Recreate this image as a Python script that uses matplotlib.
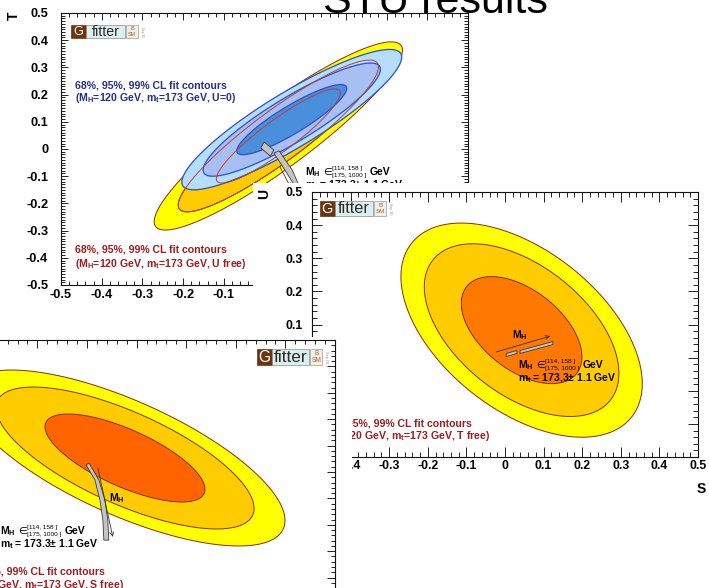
import numpy as np
import matplotlib
matplotlib.use("Agg")
import matplotlib.pyplot as plt
from matplotlib.patches import Polygon, Rectangle
from matplotlib.transforms import Affine2D
from matplotlib.ticker import MultipleLocator, FuncFormatter

plt.rcParams['font.family'] = ['Liberation Sans', 'DejaVu Sans']
plt.rcParams['font.weight'] = 'bold'
plt.rcParams['axes.unicode_minus'] = False
plt.rcParams['mathtext.fontset'] = 'custom'
plt.rcParams['mathtext.rm'] = 'Liberation Sans:bold'
plt.rcParams['mathtext.bf'] = 'Liberation Sans:bold'

# ---------------------------------------------------------------- data
cl_labels = ["68%", "95%", "99%"]
chi2_2dof = [2.30, 5.99, 9.21]          # 2-parameter chi2 thresholds

# S,T fit with U = 0
st_u0_center = (0.067, 0.108)
st_u0_sigma = (0.089, 0.085)
st_u0_rho = 0.89
# S,T fit with U free
st_uf_center = (0.034, 0.048)
st_uf_sigma = (0.1005, 0.114)
st_uf_rho = 0.91
# S,U fit with T free
su_center = (0.043, 0.083)
su_sigma = (0.103, 0.1065)
su_rho = -0.50
# U,T fit with S free
tu_center = (0.0766, 0.053)
tu_sigma = (0.1063, 0.1098)
tu_rho = -0.71

# SM prediction bands (M_H in [114,158] and [175,1000] GeV, m_t = 173.3 +- 1.1 GeV)
st_sm_low_edge_a = ([-0.001, 0.023], [0.026, -0.004])
st_sm_low_edge_b = ([-0.009, 0.014], [0.004, -0.026])
st_sm_high_edge_a = ([0.023, 0.050, 0.070, 0.080], [-0.015, -0.077, -0.125, -0.169])
st_sm_high_edge_b = ([0.036, 0.068, 0.082, 0.092], [-0.007, -0.077, -0.125, -0.169])
st_mh_arrow = ((0.038, -0.066), (0.065, -0.143))

su_sm_low = ([0.003, 0.031], [0.008, 0.017])
su_sm_high = ([0.039, 0.124], [0.017, 0.044])
su_sm_halfwidth = 0.0045
su_mh_arrow = ((-0.023, 0.017), (0.117, 0.065))

tu_sm_edge_a = ([-0.002, 0.016, 0.026, 0.032, 0.034], [0.027, -0.030, -0.106, -0.182, -0.258])
tu_sm_edge_b = ([0.004, 0.024, 0.036, 0.042, 0.044], [0.034, -0.030, -0.106, -0.182, -0.258])
tu_mh_arrow = ((0.022, 0.015), (0.052, -0.246))

mh_range_low = "[114, 158 ]"
mh_range_high = "[175, 1000 ]"

# ---------------------------------------------------------------- style
W, H = 709, 588
yellow, amber = '#ffff00', '#ffcc00'
edge_red = '#8b2a10'
blue_fills = ['#4a8fdb', '#a8bff4', '#b5defb']   # 68, 95, 99
blue_edge = '#2d4fc8'
ufree_line = '#b5403a'
txt_blue = '#22308a'
txt_red = '#a01c1c'
band_fc, band_ec = '#c4c4c4', '#3a3a3a'

fig = plt.figure(figsize=(W / 100, H / 100), dpi=100)
fig.patch.set_facecolor('white')
PX = Affine2D().scale(1.0 / W, -1.0 / H).translate(0, 1) + fig.transFigure


def frac_box(l, t, r, b):
    return [l / W, 1 - b / H, (r - l) / W, (b - t) / H]


def make_fmt(lo=-9.0, hi=9.0):
    # labels outside [lo, hi] lie under the neighbouring panel and are left blank
    def fmt(v, _):
        if v < lo - 1e-9 or v > hi + 1e-9:
            return ""
        if abs(v) < 1e-9:
            return "0"
        return f"{round(v, 2):g}"
    return FuncFormatter(fmt)


def setup(ax, xlim, ylim, minor_x, minor_y, size, xpad, ypad, maj, mnr,
          xfmt=None, yfmt=None):
    ax.set_xlim(*xlim)
    ax.set_ylim(*ylim)
    ax.xaxis.set_major_locator(MultipleLocator(0.1))
    ax.yaxis.set_major_locator(MultipleLocator(0.1))
    ax.xaxis.set_minor_locator(MultipleLocator(minor_x))
    ax.yaxis.set_minor_locator(MultipleLocator(minor_y))
    ax.xaxis.set_major_formatter(xfmt or make_fmt())
    ax.yaxis.set_major_formatter(yfmt or make_fmt())
    ax.tick_params(which='both', direction='in', top=True, right=True,
                   width=0.7, color='#222222')
    ax.tick_params(which='major', length=maj)
    ax.tick_params(which='minor', length=mnr)
    ax.tick_params(axis='x', pad=xpad, labelsize=size)
    ax.tick_params(axis='y', pad=ypad, labelsize=size)
    for sp in ax.spines.values():
        sp.set_linewidth(0.8)
        sp.set_color('#111111')


def ellipse(center, sigma, rho, chi2, n=400):
    cov = np.array([[sigma[0] ** 2, rho * sigma[0] * sigma[1]],
                    [rho * sigma[0] * sigma[1], sigma[1] ** 2]])
    L = np.linalg.cholesky(cov)
    t = np.linspace(0, 2 * np.pi, n)
    pts = L @ (np.vstack([np.cos(t), np.sin(t)]) * np.sqrt(chi2))
    return pts[0] + center[0], pts[1] + center[1]


def txt(ax, x, y, s, size, color='black', weight='bold', ha='left', va='center', **kw):
    return ax.text(x, y, s, transform=PX, fontsize=size, color=color,
                   fontweight=weight, ha=ha, va=va, clip_on=False, **kw)


def logo(ax, x0, y0, w, h):
    gw, fw, gap, bw = 0.224 * w, 0.582 * w, 0.015 * w, 0.18 * w
    ax.add_patch(Rectangle((x0, y0), gw, h, transform=PX, fc='#6b3510',
                           ec='#6b3510', lw=0.5, clip_on=False, zorder=8))
    txt(ax, x0 + gw / 2, y0 + h / 2 + 0.4, "G", h * 0.7, color='white',
        weight='normal', ha='center', zorder=9)
    ax.add_patch(Rectangle((x0 + gw, y0), fw, h, transform=PX, fc='#dcefee',
                           ec='#8a8a8a', lw=0.5, clip_on=False, zorder=8))
    txt(ax, x0 + gw + fw / 2, y0 + h / 2 + 0.3, "fitter", h * 0.78,
        color='#2a2a2a', weight='normal', ha='center', zorder=9)
    bx = x0 + gw + fw + gap
    ax.add_patch(Rectangle((bx, y0), bw, h, transform=PX, fc='#f3efe8',
                           ec='#9a9a9a', lw=0.5, clip_on=False, zorder=8))
    txt(ax, bx + bw / 2, y0 + h * 0.3, "B", h * 0.3, color='#a0683c',
        weight='normal', ha='center', zorder=9)
    txt(ax, bx + bw / 2, y0 + h * 0.72, "SM", h * 0.3, color='#a0683c',
        weight='normal', ha='center', zorder=9)
    txt(ax, bx + bw + 4, y0 + h / 2, "Sep 10", h * 0.17, color='#888888',
        weight='normal', ha='center', rotation=-90)


def mass_text(ax, x, y, size, mt="173.3"):
    txt(ax, x, y, r"M$_\mathbf{H}$", size)
    txt(ax, x + 18, y, "\u2208", size * 0.95, weight='normal')
    txt(ax, x + 27, y - 3.6, mh_range_low, size * 0.62, weight='normal')
    txt(ax, x + 27, y + 3.4, mh_range_high, size * 0.62, weight='normal')
    txt(ax, x + 65, y, "GeV", size)
    txt(ax, x, y + 13, r"m$_\mathbf{t}$ = " + mt + "\u00b1 1.1 GeV", size)


def band(ax, edge_a, edge_b):
    xs = np.concatenate([edge_a[0], edge_b[0][::-1]])
    ys = np.concatenate([edge_a[1], edge_b[1][::-1]])
    ax.add_patch(Polygon(np.column_stack([xs, ys]), closed=True, fc=band_fc,
                         ec=band_ec, lw=0.6, zorder=6))


def bar(ax, seg, hw):
    xs = [seg[0][0], seg[0][1], seg[0][1], seg[0][0]]
    ys = [seg[1][0] + hw, seg[1][1] + hw, seg[1][1] - hw, seg[1][0] - hw]
    ax.add_patch(Polygon(np.column_stack([xs, ys]), closed=True, fc=band_fc,
                         ec=band_ec, lw=0.6, zorder=6))


def arrow(ax, seg):
    ax.annotate('', xy=seg[1], xytext=seg[0],
                arrowprops=dict(arrowstyle='->', lw=0.6, color='#333333',
                                shrinkA=0, shrinkB=0, mutation_scale=7),
                zorder=7)


# ================================================================ S-T panel
ax1 = fig.add_axes(frac_box(61, 13, 468, 285), zorder=1)
setup(ax1, (-0.5, 0.5), (-0.5, 0.5), 0.02, 0.01, 9.2, 3.0, 9.2, 5.0, 2.6,
      xfmt=make_fmt(hi=-0.1))

uf_fills = ['#ff7f00', amber, yellow]
for chi2, fc in zip(chi2_2dof[::-1], uf_fills[::-1]):
    x, y = ellipse(st_uf_center, st_uf_sigma, st_uf_rho, chi2)
    ax1.fill(x, y, fc=fc, ec=edge_red, lw=0.7, zorder=2)
for chi2, fc in zip(chi2_2dof[::-1], blue_fills[::-1]):
    x, y = ellipse(st_u0_center, st_u0_sigma, st_u0_rho, chi2)
    ax1.fill(x, y, fc=fc, ec=blue_edge, lw=0.9, zorder=3)
for chi2 in chi2_2dof[:2]:
    x, y = ellipse(st_uf_center, st_uf_sigma, st_uf_rho, chi2)
    ax1.plot(x, y, color=ufree_line, lw=0.7, zorder=4)

band(ax1, st_sm_low_edge_a, st_sm_low_edge_b)
band(ax1, st_sm_high_edge_a, st_sm_high_edge_b)
arrow(ax1, st_mh_arrow)

logo(ax1, 71, 25, 67, 13)
cl_line = ", ".join(cl_labels) + " CL fit contours"
txt(ax1, 75, 85, cl_line, 7.6, color=txt_blue)
txt(ax1, 75, 98, r"(M$_\mathbf{H}$=120 GeV, m$_\mathbf{t}$=173 GeV, U=0)", 7.6, color=txt_blue)
txt(ax1, 75, 250, cl_line, 7.6, color=txt_red)
txt(ax1, 75, 264, r"(M$_\mathbf{H}$=120 GeV, m$_\mathbf{t}$=173 GeV, U free)", 7.6, color=txt_red)
mass_text(ax1, 305, 172, 7.5)
txt(ax1, 14, 16, "T", 10, ha='center', rotation=90)

# ================================================================ S-U panel
fig.add_artist(Rectangle((253, 183), W - 253, H - 183, transform=PX,
                         fc='white', ec='none', zorder=2))
ax2 = fig.add_axes(frac_box(312, 192, 698, 457), zorder=3)
ax2.set_facecolor('white')
setup(ax2, (-0.5, 0.5), (-0.3, 0.5), 0.02, 0.02, 8.8, 2.5, 6.5, 7.0, 3.6,
      xfmt=make_fmt(lo=-0.4), yfmt=make_fmt(lo=0.1))

su_fills = ['#ff7800', amber, yellow]
for chi2, fc in zip(chi2_2dof[::-1], su_fills[::-1]):
    x, y = ellipse(su_center, su_sigma, su_rho, chi2)
    ax2.fill(x, y, fc=fc, ec=edge_red, lw=0.7, zorder=2)
bar(ax2, su_sm_low, su_sm_halfwidth)
bar(ax2, su_sm_high, su_sm_halfwidth)
arrow(ax2, su_mh_arrow)
txt(ax2, 520, 335, r"M$_\mathbf{H}$", 7.5, ha='center')
mass_text(ax2, 518, 365, 7.5, mt="173,3")
logo(ax2, 320, 201, 66, 15)
txt(ax2, 320, 423, cl_line, 7.6, color=txt_red)
txt(ax2, 320, 436, r"(M$_\mathbf{H}$=120 GeV, m$_\mathbf{t}$=173 GeV, T free)", 7.6, color=txt_red)
txt(ax2, 264, 194, "U", 10, ha='center', rotation=90)
txt(ax2, 701, 489, "S", 10, ha='center')

# ================================================================ U-T panel
fig.add_artist(Rectangle((0, 337), 352, H - 337, transform=PX,
                         fc='white', ec='none', zorder=4))
ax3 = fig.add_axes(frac_box(-161, 340, 335, 604), zorder=5)
ax3.set_facecolor('white')
setup(ax3, (-0.5, 0.5), (-0.5, 0.5), 0.02, 0.02, 9.0, 3.0, 8.0, 6.0, 3.2)

tu_fills = ['#ff6400', amber, yellow]
for chi2, fc in zip(chi2_2dof[::-1], tu_fills[::-1]):
    x, y = ellipse(tu_center, tu_sigma, tu_rho, chi2)
    ax3.fill(x, y, fc=fc, ec=edge_red, lw=0.7, zorder=2)
band(ax3, tu_sm_edge_a, tu_sm_edge_b)
arrow(ax3, tu_mh_arrow)
txt(ax3, 117, 498, r"M$_\mathbf{H}$", 7.5, ha='center')
mass_text(ax3, 0, 531, 7.5)
logo(ax3, 257, 349, 65, 16)
txt(ax3, -47, 571, cl_line, 7.6, color=txt_red)
txt(ax3, -47, 585, r"(M$_\mathbf{H}$=120 GeV, m$_\mathbf{t}$=173 GeV, S free)", 7.6, color=txt_red)

# ---------------------------------------------------------------- slide title
fig.text(323 / W, 1 - 13 / H, "STU results", fontsize=31, fontweight='normal',
         ha='left', va='baseline', zorder=10)

fig.savefig("out.png", dpi=100, facecolor='white')
